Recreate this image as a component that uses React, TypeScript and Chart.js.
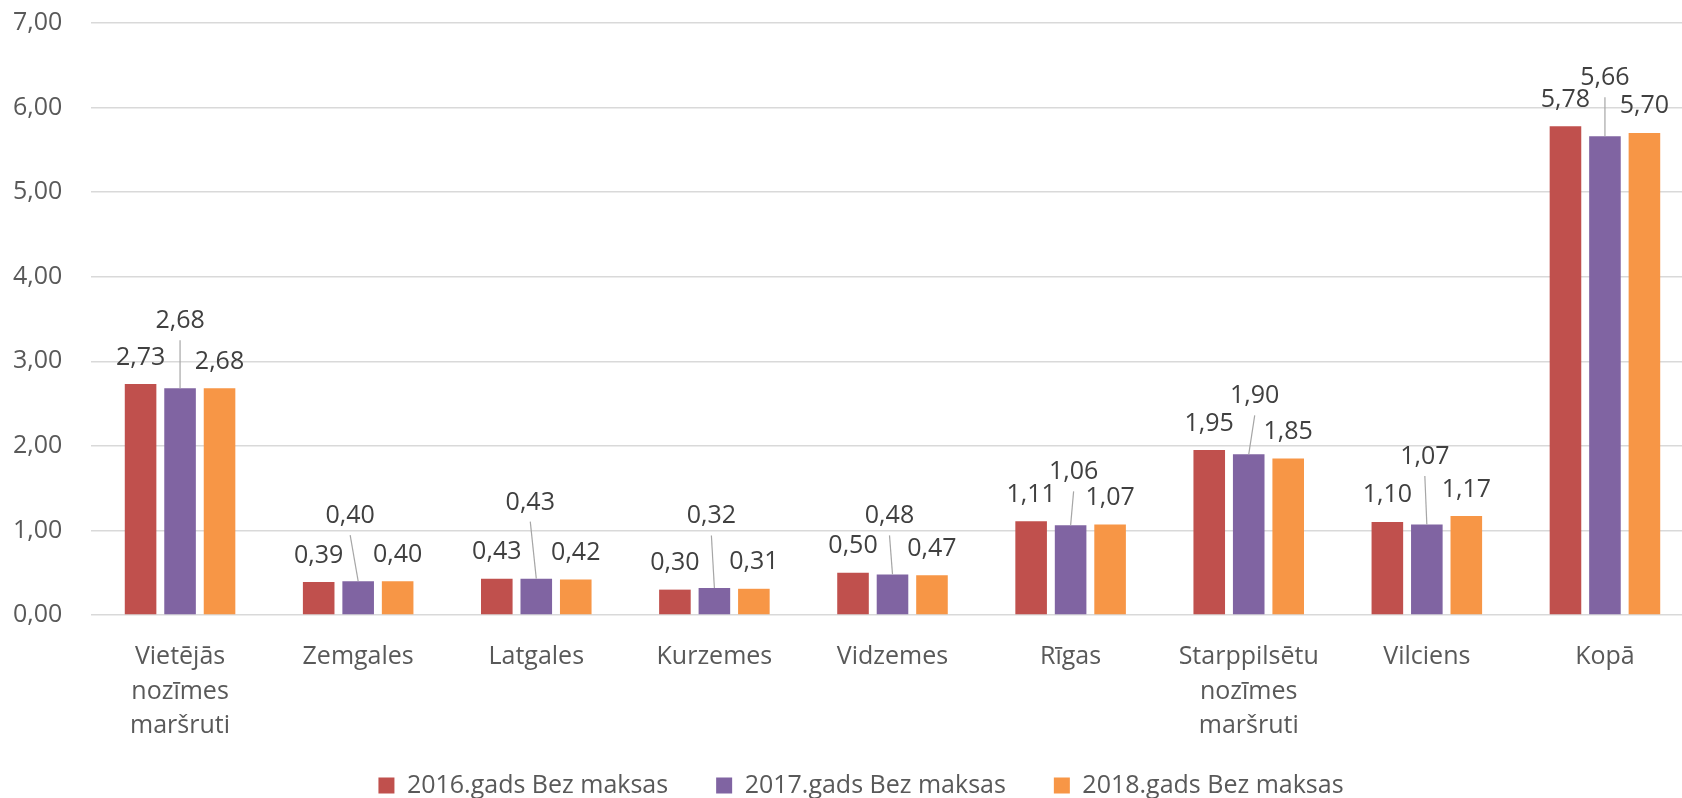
import React, { useEffect, useRef } from 'react';
import { Chart, registerables } from 'chart.js';

Chart.register(...registerables);

const CATEGORIES: (string | string[])[] = [
  ['Vietējās', 'nozīmes', 'maršruti'],
  'Zemgales',
  'Latgales',
  'Kurzemes',
  'Vidzemes',
  'Rīgas',
  ['Starppilsētu', 'nozīmes', 'maršruti'],
  'Vilciens',
  'Kopā',
];
const SERIES_NAMES = ['2016.gads Bez maksas', '2017.gads Bez maksas', '2018.gads Bez maksas'];
const VALUES_2016 = [2.73, 0.39, 0.43, 0.3, 0.5, 1.11, 1.95, 1.1, 5.78];
const VALUES_2017 = [2.68, 0.4, 0.43, 0.32, 0.48, 1.06, 1.9, 1.07, 5.66];
const VALUES_2018 = [2.68, 0.4, 0.42, 0.31, 0.47, 1.07, 1.85, 1.17, 5.7];
const Y_MIN = 0;
const Y_MAX = 7;
const Y_STEP = 1;

const COLORS = ['#C0504D', '#8064A2', '#F79646'];

// label placement styling (how far labels sit above bar tops)
const LABEL_LIFT = 28.5;
const MID_LABEL_LIFT = [69, 67, 78, 73.5, 60, 55, 60, 69.5, 60];
const MID_LABEL_SHIFT = [0, -8, -6, -3, -3, 3, 6, -2, 0];

const fmt = (v: number) => Number(v).toFixed(2).replace('.', ',');

const dataLabelPlugin = {
  id: 'dataLabels',
  afterDatasetsDraw(chart: any) {
    const ctx = chart.ctx;
    ctx.save();
    ctx.font = '25px "Open Sans"';
    ctx.textAlign = 'center';
    ctx.textBaseline = 'alphabetic';
    chart.data.datasets.forEach((ds: any, i: number) => {
      const meta = chart.getDatasetMeta(i);
      meta.data.forEach((bar: any, j: number) => {
        const v = ds.data[j];
        const isMid = i === 1;
        const lift = isMid ? MID_LABEL_LIFT[j] : LABEL_LIFT;
        const dx = isMid ? MID_LABEL_SHIFT[j] : 0;
        const cx = bar.x + dx;
        const cy = bar.y - lift;
        if (isMid) {
          ctx.strokeStyle = '#A6A6A6';
          ctx.lineWidth = 1.2;
          ctx.beginPath();
          ctx.moveTo(cx, cy + 21);
          ctx.lineTo(bar.x, bar.y);
          ctx.stroke();
        }
        ctx.fillStyle = '#404040';
        ctx.fillText(fmt(v), cx, cy + 9);
      });
    });
    ctx.restore();
  },
};

const legendShiftPlugin = {
  id: 'legendShift',
  afterLayout(chart: any) {
    const l = chart.legend;
    if (l) {
      l.top -= 18;
      l.bottom -= 18;
      l.left += 7.5;
      l.right += 7.5;
    }
  },
};

export default function App() {
  const canvasRef = useRef<HTMLCanvasElement | null>(null);

  useEffect(() => {
    const canvas = canvasRef.current;
    if (!canvas) return;
    Chart.defaults.font.family = '"Open Sans", "DejaVu Sans", sans-serif';
    const seriesValues = [VALUES_2016, VALUES_2017, VALUES_2018];
    const chart = new Chart(canvas, {
      type: 'bar',
      data: {
        labels: CATEGORIES,
        datasets: SERIES_NAMES.map((name, i) => ({
          label: name,
          data: seriesValues[i],
          backgroundColor: COLORS[i],
          borderWidth: 0,
          barPercentage: 0.8,
          categoryPercentage: 0.665,
        })),
      },
      options: {
        animation: false,
        responsive: false,
        maintainAspectRatio: false,
        layout: { padding: { top: 23, right: 30, left: 13, bottom: 0 } },
        plugins: {
          legend: {
            position: 'bottom',
            labels: {
              boxWidth: 16,
              boxHeight: 16,
              padding: 48,
              color: '#595959',
              font: { size: 25 },
            },
          },
          tooltip: { enabled: false },
        },
        scales: {
          x: {
            grid: { display: false },
            border: { display: false },
            ticks: {
              color: '#595959',
              font: { size: 25, lineHeight: 1.38 },
              padding: 17,
              maxRotation: 0,
              autoSkip: false,
            },
            afterFit: (s: any) => {
              s.height = 128;
            },
          },
          y: {
            min: Y_MIN,
            max: Y_MAX,
            ticks: {
              stepSize: Y_STEP,
              padding: 0,
              crossAlign: 'far',
              color: '#595959',
              font: { size: 25 },
              callback: (v: any) => fmt(v),
            },
            grid: { color: '#D9D9D9', lineWidth: 1.5, drawTicks: false },
            border: { display: false },
            afterFit: (s: any) => {
              s.width = 78;
            },
          },
        },
      },
      plugins: [dataLabelPlugin, legendShiftPlugin],
    } as any);
    return () => chart.destroy();
  }, []);

  return (
    <div
      style={{
        position: 'fixed',
        left: 0,
        top: 0,
        width: 1682,
        height: 798,
        overflow: 'hidden',
        background: '#ffffff',
      }}
    >
      <canvas
        ref={canvasRef}
        width={1724}
        height={826}
        style={{ width: 1724, height: 826, display: 'block' }}
      />
    </div>
  );
}
